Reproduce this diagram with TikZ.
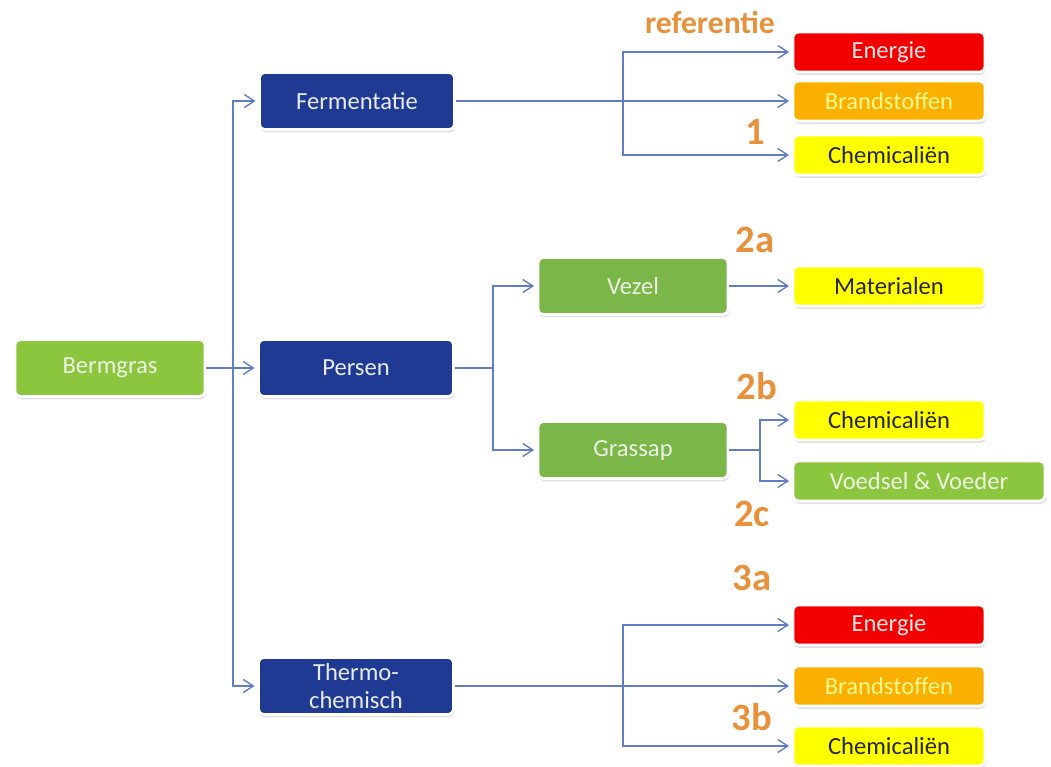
\documentclass[tikz,border=0pt]{standalone}
\usepackage{fontspec}
\setmainfont{Carlito}
\usepackage{tikz}
\usetikzlibrary{arrows.meta, positioning, calc, shadows}

\definecolor{procblue}{HTML}{1F3A93}
\definecolor{grassgreen}{HTML}{8CC63F}
\definecolor{fibregreen}{HTML}{7AB648}
\definecolor{energyred}{HTML}{F20000}
\definecolor{fuelorange}{HTML}{FBB000}
\definecolor{chemyellow}{HTML}{FFFF00}
\definecolor{linkblue}{HTML}{5F7EC4}
\definecolor{tagorange}{HTML}{E8913A}

\begin{document}
\begin{tikzpicture}[
    x=0.02cm, y=-0.02cm,
    box/.style={rectangle, rounded corners=3pt, draw=white, line width=1.5pt, font=\fontsize{14}{16}\selectfont, align=center, inner sep=2pt,
        drop shadow={opacity=0.25, shadow xshift=0.6pt, shadow yshift=-1.6pt}},
    proc/.style={box, fill=procblue, text=white!90!procblue, minimum width=3.9cm, minimum height=1.14cm},
    green/.style={box, fill=fibregreen, text=white!85!fibregreen, minimum width=3.8cm, minimum height=1.14cm},
    product/.style={box, minimum width=3.84cm, minimum height=0.8cm},
    energy/.style={product, fill=energyred, text=white!90!energyred},
    fuel/.style={product, fill=fuelorange, text=white!55!yellow},
    chem/.style={product, fill=chemyellow, text=black!85},
    tag/.style={font=\bfseries\fontsize{22}{24}\selectfont, text=tagorange},
    conn/.style={-{Straight Barb[length=2mm, width=2.6mm]}, linkblue, line width=0.8pt, shorten >=1.5pt},
    link/.style={linkblue, line width=0.8pt}
]
\useasboundingbox (0,0) rectangle (1051,767);

% source and first step
\node[green, fill=grassgreen, minimum width=3.8cm] (berm) at (110,368) {Bermgras};
\node[proc] (ferm) at (357,101) {Fermentatie};
\node[proc] (persen) at (356,368) {Persen};
\node[proc] (thermo) at (356,686) {Thermo-\\chemisch};

% pressing products
\node[green] (vezel) at (633,286) {Vezel};
\node[green] (grassap) at (633,450) {Grassap};

% end products
\node[energy] (energie1) at (889,52) {Energie};
\node[fuel] (brand1) at (889,101) {Brandstoffen};
\node[chem] (chem1) at (889,155) {Chemicaliën};
\node[chem] (mat) at (889,286) {Materialen};
\node[chem] (chem2) at (889,420) {Chemicaliën};
\node[product, fill=grassgreen, text=white!85!grassgreen, minimum width=5.04cm] (voed) at (919,481) {Voedsel \& Voeder};
\node[energy] (energie3) at (889,625) {Energie};
\node[fuel] (brand3) at (889,686) {Brandstoffen};
\node[chem] (chem3) at (889,746) {Chemicaliën};

% route labels
\node[tag, font=\bfseries\fontsize{18}{20}\selectfont] (lref) at (710,22) {referentie};
\node[tag] (l1) at (755,132) {1};
\node[tag] (l2a) at (755,240) {2a};
\node[tag] (l2b) at (757,386) {2b};
\node[tag] (l2c) at (752,514) {2c};
\node[tag] (l3a) at (752,578) {3a};
\node[tag] (l3b) at (752,717) {3b};

% branch points
\coordinate (split1) at (233,368);
\coordinate (split2) at (623,101);
\coordinate (split3) at (493,368);
\coordinate (split4) at (760,450);
\coordinate (split5) at (623,686);

% connectors
\draw[conn] (berm.east) -- (persen.west);
\draw[conn] (split1) |- (ferm.west);
\draw[conn] (split1) |- (thermo.west);

\draw[conn] (ferm.east) -- (brand1.west);
\draw[conn] (split2) |- (energie1.west);
\draw[conn] (split2) |- (chem1.west);

\draw[link] (persen.east) -- (split3);
\draw[conn] (split3) |- (vezel.west);
\draw[conn] (split3) |- (grassap.west);
\draw[conn] (vezel.east) -- (mat.west);

\draw[link] (grassap.east) -- (split4);
\draw[conn] (split4) |- (chem2.west);
\draw[conn] (split4) |- (voed.west);

\draw[conn] (thermo.east) -- (brand3.west);
\draw[conn] (split5) |- (energie3.west);
\draw[conn] (split5) |- (chem3.west);

\end{tikzpicture}
\end{document}
